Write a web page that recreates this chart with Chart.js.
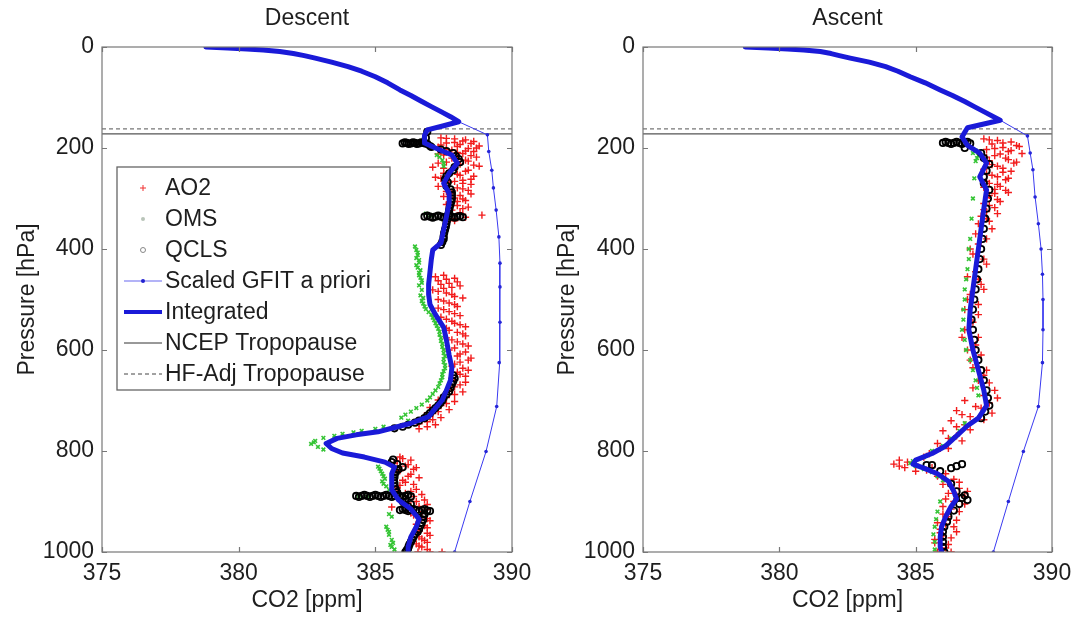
<!DOCTYPE html>
<html>
<head>
<meta charset="utf-8">
<script src="https://cdn.jsdelivr.net/npm/chart.js@4.4.1/dist/chart.umd.min.js"></script>
<style>
  html, body { margin: 0; padding: 0; background: #fff; }
  #wrap { width: 1080px; height: 617px; display: flex; }
  canvas { display: block; }
</style>
</head>
<body>
<div id="wrap">
  <canvas id="descent" width="540" height="617"></canvas>
  <canvas id="ascent" width="540" height="617"></canvas>
</div>
<script>
// axes
const co2Ticks = [375, 380, 385, 390];
const pressureTicks = [0, 200, 400, 600, 800, 1000];
const ncepTropopause = 172;
const hfAdjTropopause = 162;

// Scaled GFIT a priori, [CO2 ppm, pressure hPa]
const descentPrior = [[378.8,0],[380.3,4],[381.5,9],[382.8,22],[384.0,39],[385.0,59],[385.9,85],[386.7,108],[387.4,128],[388.05,148],
  [389.1,174],[389.15,207],[389.26,244],[389.32,279],[389.42,323],[389.52,376],[389.56,428],[389.56,475],[389.56,545],[389.53,625],
  [389.44,712],[389.05,801],[388.46,900],[387.9,1000]];
const ascentPrior = [[378.75,0],[380.3,4],[381.5,9],[382.6,22],[383.9,39],[384.8,59],[385.9,85],[386.8,108],[387.5,128],[388.1,145],
  [389.1,176],[389.2,210],[389.3,243],[389.38,297],[389.5,350],[389.6,400],[389.65,450],[389.67,500],[389.67,560],[389.65,625],
  [389.5,712],[388.95,801],[388.4,900],[387.85,1000]];

// Integrated profiles
const descentIntegrated = [[378.8,0],[379.6,2],[380.3,4],[380.9,6],[381.5,9],[382.0,13],[382.4,17],[382.8,22],[383.4,30],[384.0,39],
  [384.5,48],[385.0,59],[385.45,71],[385.9,85],[386.3,96],[386.7,108],[387.05,118],[387.4,128],[387.75,138],[388.05,148],
  [387.5,156],[386.9,164],[386.8,175],[386.8,190],[387.2,200],[387.8,214],[388.0,230],[387.7,250],[387.5,270],[387.7,290],[387.7,310],
  [387.6,336],[387.5,362],[387.4,388],[387.1,402],[387.05,420],[387.0,445],[386.95,470],[386.95,490],[387.0,510],[387.2,530],[387.5,555],
  [387.6,580],[387.7,610],[387.8,635],[387.75,660],[387.6,680],[387.45,699],[387.2,715],[386.95,732],[386.3,745],[385.6,755],[385.1,762],
  [384.3,768],[383.6,775],[383.2,785],[383.4,795],[383.8,804],[384.6,812],[385.35,822],[385.7,832],[385.6,845],[385.6,857],[385.6,877],
  [385.85,897],[386.3,915],[386.6,935],[386.5,950],[386.3,970],[386.2,990],[386.2,1000]];
const ascentIntegrated = [[378.75,0],[379.6,2],[380.3,4],[380.9,6],[381.5,9],[381.9,13],[382.2,17],[382.6,22],[383.3,30],[383.9,39],
  [384.35,48],[384.8,59],[385.35,71],[385.9,85],[386.35,96],[386.8,108],[387.15,118],[387.5,128],[388.1,145],
  [386.9,160],[386.7,178],[386.9,195],[387.35,210],[387.6,230],[387.35,257],[387.6,283],[387.5,320],[387.4,360],[387.3,400],[387.2,440],
  [387.1,480],[387.0,520],[386.95,560],[387.1,600],[387.3,640],[387.5,680],[387.6,710],[387.3,735],[386.9,750],[386.5,770],[386.1,790],
  [385.6,805],[385.0,818],[384.9,826],[385.3,834],[385.8,845],[386.2,860],[386.4,880],[386.5,895],[386.3,910],[386.1,930],[385.95,950],
  [385.9,970],[385.9,990],[385.95,1000]];

// AO2 measurements
const descentAO2 = [[387.4,180],[387.9,182],[388.3,184],[388.6,187],[387.6,190],[388.1,193],[388.8,196],[387.3,198],[388.4,201],[387.8,204],
  [388.6,207],[388.2,211],[387.5,214],[388.7,218],[388.0,222],[388.4,226],[387.3,230],[388.6,234],[387.1,238],[387.8,242],[388.3,246],
  [387.5,250],[388.1,254],[387.2,258],[388.5,262],[387.9,266],[388.2,270],[387.6,274],[388.0,279],[388.4,284],[387.8,289],[388.1,294],
  [387.9,299],[388.3,304],[387.7,309],[388.0,314],[388.2,320],[388.9,333],[387.9,340],[387.6,346],
  [387.6,181],[388.2,186],[387.9,189],[388.5,191],[387.4,194],[388.0,197],[388.7,200],[387.6,203],[388.3,206],[388.0,209],[387.3,212],
  [388.5,215],[387.8,220],[388.3,224],[387.6,228],[388.1,232],[388.8,236],[387.5,240],[388.4,244],[387.7,248],[388.0,252],[388.6,256],
  [387.4,260],[388.2,264],[387.7,268],[388.5,272],[387.3,276],[388.2,281],[387.6,286],[388.5,291],[387.5,296],[388.2,301],[388.0,306],
  [387.6,312],[388.4,317],[387.8,323],[388.1,328],[387.9,344],[388.3,337],
  [387.2,455],[387.6,460],[388.0,465],[387.4,470],[387.8,476],[387.1,481],[387.6,487],[387.9,494],[387.3,500],[387.7,507],[388.0,514],
  [387.5,520],[387.9,528],[387.4,535],[387.8,543],[388.1,550],[387.6,557],[388.0,565],[388.3,572],[387.8,580],[388.2,588],[387.9,596],
  [388.3,604],[388.0,612],[388.4,620],[387.9,628],[388.2,636],[388.0,644],[388.3,652],[387.9,660],[388.1,669],[387.7,678],[387.9,688],
  [387.3,699],[387.6,706],[387.0,714],[387.3,722],[386.8,730],[387.1,738],[386.6,746],[386.9,752],
  [387.5,452],[387.9,458],[387.3,463],[387.7,468],[388.1,473],[387.5,478],[387.3,484],[387.8,490],[388.2,497],[387.5,503],[387.9,510],
  [387.3,517],[387.7,524],[388.1,532],[387.6,539],[387.9,547],[388.3,554],[387.7,561],[388.2,568],[387.6,576],[388.0,584],[388.4,592],
  [387.7,600],[388.1,608],[388.5,616],[388.1,624],[387.8,632],[388.4,640],[388.1,648],[387.8,656],[388.3,664],[387.9,673],[388.2,683],
  [387.6,694],[387.9,702],[387.4,710],[387.7,718],[387.1,726],[387.4,734],[386.9,742],[387.2,748],[386.6,756],
  [385.9,812],[386.3,818],[385.7,824],[386.1,830],[386.4,836],[385.8,842],[386.2,850],[386.0,858],[386.4,866],[385.8,873],[386.3,880],
  [386.7,886],[386.0,894],[386.5,900],[386.9,906],[385.6,911],[386.2,914],[386.7,920],[386.4,927],[386.9,934],[386.6,941],[386.8,948],
  [386.5,956],[386.9,963],[386.6,970],[386.8,977],[386.5,984],[386.7,990],[386.56,1000],[387.0,1000],[387.44,1000],
  [386.0,815],[385.8,820],[386.2,827],[386.5,833],[385.9,839],[386.3,846],[386.6,853],[386.1,862],[385.9,868],[386.5,876],[386.1,884],
  [386.4,890],[386.8,897],[386.2,903],[386.6,910],[386.9,916],[386.3,923],[386.7,930],[387.0,938],[386.5,945],[386.9,952],[386.6,959],
  [387.0,967],[386.7,974],[386.9,981],[386.6,988],[386.9,995]];
const ascentAO2 = [[387.5,182],[388.0,185],[388.5,188],[387.8,192],[388.7,195],[388.2,199],[387.6,203],[388.4,207],[388.9,211],[387.9,215],
  [388.3,220],[387.7,225],[388.6,230],[388.0,236],[387.5,242],[388.2,248],[387.8,254],[388.4,260],[387.6,266],[388.0,272],[387.5,278],
  [388.3,284],[387.9,290],[387.6,298],[388.1,306],[387.7,314],[387.5,322],[388.0,330],[387.6,340],[387.3,350],[387.8,360],
  [387.7,184],[388.2,190],[388.8,197],[387.9,201],[388.5,205],[388.1,212],[387.6,218],[388.4,223],[388.7,228],[387.8,233],[388.2,240],
  [388.5,246],[387.6,251],[388.0,257],[388.3,263],[387.7,270],[388.1,276],[387.9,282],[388.4,288],[387.7,294],[388.0,302],[387.5,310],
  [387.9,318],[387.6,326],[387.4,335],[387.7,345],
  [387.0,400],[387.5,420],[387.2,445],[387.4,470],[386.9,500],[387.3,530],[386.8,560],[387.2,590],[387.0,620],[387.6,640],[387.3,660],
  [387.9,680],[387.5,690],[386.8,700],[387.7,705],[387.2,712],[386.5,720],[387.8,725],[387.0,732],[386.3,740],[386.8,748],[386.0,760],
  [387.2,370],[387.6,380],[387.3,390],[387.1,410],[387.6,430],[386.9,455],[387.3,460],[387.5,480],[387.0,490],[387.3,510],[386.8,520],
  [387.1,545],[386.7,575],[387.3,575],[386.9,600],[387.4,610],[387.1,635],[387.5,650],[387.7,665],[387.1,675],[388.0,695],[387.4,715],
  [386.7,728],[387.5,738],[386.5,752],[387.0,758],[386.2,775],[386.7,780],
  [386.5,770],[385.8,785],[386.2,795],[385.5,805],[384.4,818],[384.2,826],[384.6,833],[385.0,840],[385.4,838],[385.8,850],[386.4,856],
  [386.0,866],[386.6,874],[386.2,884],[386.8,890],[386.4,900],[386.0,910],[386.6,920],[386.2,930],[385.8,942],[386.4,950],[385.9,962],
  [386.3,972],[385.7,982],[386.1,992],[385.8,1000],[386.3,1000],
  [385.9,795],[385.3,812],[384.7,822],[385.0,826],[384.4,830],[385.6,833],[386.1,845],[386.6,862],[386.3,870],[386.9,880],[386.5,888],
  [386.1,895],[386.8,905],[386.3,915],[386.0,925],[386.5,937],[386.1,945],[385.9,955],[386.5,960],[386.0,968],[385.7,975],[386.2,985],
  [385.9,995]];

// OMS measurements
const descentOMS = [[387.35,218],[387.45,224],[387.5,230],[386.85,330],[387.0,333],[386.5,402],[386.55,412],[386.6,422],[386.5,432],
  [386.65,442],[386.6,452],[386.7,462],[386.6,472],[386.7,481],[386.65,492],[386.7,503],[386.8,514],[386.95,525],[387.1,536],[387.2,547],
  [387.3,558],[387.35,570],[387.4,582],[387.45,594],[387.5,606],[387.5,618],[387.55,630],[387.5,642],[387.45,654],[387.35,666],
  [387.2,680],[387.0,694],[386.7,708],[386.3,722],[385.95,734],[386.2,740],[385.3,752],[384.5,760],[383.8,766],[383.1,774],[382.8,780],
  [382.65,786],[382.9,792],[383.1,797],[385.1,831],[385.2,840],[385.3,850],[385.25,860],[385.4,870],[385.5,877],[384.4,891],[384.7,891],
  [385.6,930],[385.45,956],[385.5,966],[385.6,976],[385.55,986],[385.7,995],
  [387.25,214],[387.5,236],[386.45,395],[386.55,407],[386.5,418],[386.6,427],[386.55,437],[386.6,447],[386.65,457],[386.7,467],
  [386.75,497],[386.75,508],[386.85,519],[387.05,530],[387.15,541],[387.25,552],[387.35,564],[387.4,576],[387.45,588],[387.5,600],
  [387.55,612],[387.5,624],[387.55,636],[387.45,648],[387.4,660],[387.3,673],[387.1,687],[386.9,700],[386.5,715],[386.1,728],
  [385.0,756],[384.2,763],[383.5,770],[382.75,783],[385.15,835],[385.25,845],[385.35,855],[385.3,865],[385.5,925],[385.4,950],
  [385.5,960],[385.65,982],[385.6,990]];
const ascentOMS = [[387.2,205],[387.3,215],[387.2,226],[387.1,300],[387.0,380],[386.95,420],[386.85,460],[386.8,500],[386.75,540],
  [386.8,580],[387.0,620],[387.2,660],[387.3,690],[386.6,760],[386.0,790],[385.3,812],[384.9,820],[385.0,830],[385.6,842],[386.0,858],
  [385.8,920],[385.7,950],[385.7,980],
  [387.1,210],[387.25,220],[387.15,260],[387.05,340],[386.95,400],[386.9,440],[386.8,480],[386.75,520],[386.7,560],[386.85,600],
  [387.1,640],[387.25,675],[386.8,745],[386.3,775],[385.6,800],[384.8,824],[385.3,836],[385.8,850],[385.9,900],[385.75,935],
  [385.65,965],[385.7,995]];

// QCLS measurements
const descentQCLS = [[386.0,191],[386.15,190],[386.3,191],[386.45,190],[386.6,191],[386.75,190],[386.9,192],
  [386.08,189],[386.22,192],[386.38,189],[386.52,192],[386.68,189],[386.82,191],
  [387.0,196],[387.4,203],[387.85,210],[388.05,222],[387.9,238],[387.7,250],[387.55,262],[387.6,275],[387.8,288],[387.8,300],[387.75,312],
  [387.7,324],[386.8,336],[387.0,336],[387.2,336],[387.4,336],[387.6,336],[387.8,336],[388.0,336],[388.2,337],[387.6,350],[387.55,362],
  [386.9,334],[387.1,338],[387.3,334],[387.5,338],[387.7,334],[387.9,338],[388.1,335],
  [387.5,375],[387.45,386],[387.4,392],
  [386.9,168],[386.85,180],[387.05,198],[387.6,206],[387.95,216],[388.1,228],[387.85,244],[387.6,256],[387.65,268],[387.75,282],
  [387.8,294],[387.78,306],[387.72,318],[387.68,330],[387.62,344],[387.58,356],[387.52,368],[387.5,380],
  [387.85,650],[387.85,662],[387.75,675],[387.6,688],[387.45,700],[387.3,710],[387.1,720],[386.9,730],[386.6,740],[386.2,748],[385.7,755],
  [387.9,656],[387.8,668],[387.7,682],[387.5,694],[387.38,705],[387.2,715],[387.0,725],[386.8,735],[386.45,744],[386.0,752],
  [385.6,822],[385.8,826],[386.0,832],[385.75,842],[385.7,852],[385.7,864],[385.75,876],[384.3,889],[384.5,889],[384.7,889],[384.9,889],
  [385.1,889],[385.3,889],[385.5,889],[385.7,889],[385.9,889],[386.1,889],[386.3,890],[386.0,900],[386.2,910],[385.9,917],[386.1,917],
  [384.4,891],[384.6,887],[384.8,891],[385.0,887],[385.2,891],[385.4,887],[385.6,891],[385.8,887],[386.0,891],[386.2,887],
  [386.3,917],[386.5,917],[386.7,917],[386.9,918],[387.0,919],[386.75,930],[386.7,942],[386.6,955],[386.45,965],[386.35,975],
  [386.0,915],[386.2,919],[386.4,915],[386.6,919],[386.8,915],
  [386.25,985],[386.2,993],[386.1,1000],
  [385.65,817],[385.85,836],[385.7,847],[385.68,858],[385.7,870],[385.8,882],[386.1,895],[386.3,905],[386.1,913],[386.8,925],
  [386.75,936],[386.65,948],[386.55,960],[386.4,970],[386.3,980],[386.22,989],[386.15,996]];
const ascentQCLS = [[386.0,190],[386.2,190],[386.4,190],[386.6,190],[386.8,190],[387.0,191],
  [386.1,188],[386.3,192],[386.5,188],[386.7,192],[386.9,188],
  [387.4,210],[387.7,232],[387.5,257],[387.7,283],[387.6,320],[387.5,360],[387.4,400],[387.3,440],[387.2,480],[387.1,520],[387.1,560],
  [387.2,600],[387.4,640],[387.6,680],[387.7,710],[387.4,735],[386.7,826],[386.5,830],[386.3,834],[386.5,880],[386.7,893],[386.6,905],
  [386.2,930],[386.05,950],[386.0,970],[386.0,990],[386.05,1000],
  [386.8,200],[387.5,220],[387.6,245],[387.5,270],[387.65,300],[387.55,340],[387.45,380],[387.35,420],[387.25,460],[387.15,500],
  [387.05,540],[387.15,580],[387.3,620],[387.5,660],[387.65,695],[387.55,722],[385.4,828],[385.6,828],[385.9,840],[386.3,865],
  [386.8,888],[386.9,897],[386.4,918],[386.15,940],[386.0,960],[386.0,980]];

const FONT = '"Liberation Sans", Arial, Helvetica, sans-serif';
const FSIZE = 23;
const TEXT = '#1e1e1e';

function pts(list) {
  return list.map(d => ({ x: d[0], y: d[1] }));
}

const framePlugin = {
  id: 'frame',
  afterDraw(chart, args, opts) {
    const { ctx, chartArea: a, scales } = chart;
    ctx.save();
    ctx.strokeStyle = '#777';
    ctx.lineWidth = 1.2;
    ctx.strokeRect(a.left, a.top, a.right - a.left, a.bottom - a.top);
    ctx.beginPath();
    co2Ticks.forEach(v => {
      const px = Math.round(scales.x.getPixelForValue(v)) + 0.5;
      ctx.moveTo(px, a.bottom); ctx.lineTo(px, a.bottom - 5);
      ctx.moveTo(px, a.top); ctx.lineTo(px, a.top + 5);
    });
    pressureTicks.forEach(v => {
      const py = Math.round(scales.y.getPixelForValue(v)) + 0.5;
      ctx.moveTo(a.left, py); ctx.lineTo(a.left + 5, py);
      ctx.moveTo(a.right, py); ctx.lineTo(a.right - 5, py);
    });
    ctx.stroke();
    ctx.fillStyle = TEXT;
    ctx.font = FSIZE + 'px ' + FONT;
    ctx.textAlign = 'center';
    ctx.textBaseline = 'middle';
    ctx.fillText(opts.title, (a.left + a.right) / 2, 19);
    ctx.restore();
  }
};

const legendItems = ['AO2', 'OMS', 'QCLS', 'Scaled GFIT a priori', 'Integrated', 'NCEP Tropopause', 'HF-Adj Tropopause'];

const legendPlugin = {
  id: 'boxLegend',
  afterDraw(chart, args, opts) {
    if (!opts.show) return;
    const ctx = chart.ctx;
    const bx = 117, by = 167, bw = 273, bh = 223;
    ctx.save();
    ctx.fillStyle = '#fff';
    ctx.fillRect(bx, by, bw, bh);
    ctx.strokeStyle = '#666';
    ctx.lineWidth = 1.3;
    ctx.strokeRect(bx, by, bw, bh);
    legendItems.forEach((label, i) => {
      const y = by + 21 + i * 31;
      const cx = 143;
      ctx.setLineDash([]);
      if (i === 0) {
        ctx.strokeStyle = '#f03030'; ctx.lineWidth = 1;
        ctx.beginPath(); ctx.moveTo(cx - 3, y); ctx.lineTo(cx + 3, y); ctx.moveTo(cx, y - 3); ctx.lineTo(cx, y + 3); ctx.stroke();
      } else if (i === 1) {
        ctx.fillStyle = '#b9c4b9';
        ctx.beginPath(); ctx.arc(cx, y, 2, 0, Math.PI * 2); ctx.fill();
      } else if (i === 2) {
        ctx.strokeStyle = '#888'; ctx.lineWidth = 1;
        ctx.beginPath(); ctx.arc(cx, y, 2.5, 0, Math.PI * 2); ctx.stroke();
      } else if (i === 3) {
        ctx.strokeStyle = '#9a9af5'; ctx.lineWidth = 1.5;
        ctx.beginPath(); ctx.moveTo(124, y); ctx.lineTo(162, y); ctx.stroke();
        ctx.fillStyle = '#2020d0';
        ctx.beginPath(); ctx.arc(cx, y, 2, 0, Math.PI * 2); ctx.fill();
      } else if (i === 4) {
        ctx.strokeStyle = '#1a1ad8'; ctx.lineWidth = 4;
        ctx.beginPath(); ctx.moveTo(124, y); ctx.lineTo(162, y); ctx.stroke();
      } else if (i === 5) {
        ctx.strokeStyle = '#333'; ctx.lineWidth = 1;
        ctx.beginPath(); ctx.moveTo(124, y); ctx.lineTo(162, y); ctx.stroke();
      } else {
        ctx.strokeStyle = '#444'; ctx.lineWidth = 1; ctx.setLineDash([4, 3]);
        ctx.beginPath(); ctx.moveTo(124, y); ctx.lineTo(162, y); ctx.stroke();
      }
      ctx.setLineDash([]);
      ctx.fillStyle = TEXT;
      ctx.font = FSIZE + 'px ' + FONT;
      ctx.textAlign = 'left';
      ctx.textBaseline = 'middle';
      ctx.fillText(label, 165, y + 1);
    });
    ctx.restore();
  }
};

function makeChart(id, title, integ, prior, ao2, oms, qcls, yWidth, showLegend) {
  const f = { family: FONT, size: FSIZE };
  return new Chart(document.getElementById(id), {
    type: 'scatter',
    data: {
      datasets: [
        { label: 'Integrated', data: pts(integ), showLine: true, borderColor: '#1a1ad8', borderWidth: 5,
          pointRadius: 0, order: 0, borderJoinStyle: 'round', borderCapStyle: 'round' },
        { label: 'Scaled GFIT a priori', data: pts(prior), showLine: true, borderColor: '#3a3af0', borderWidth: 1,
          pointRadius: 1.8, pointBackgroundColor: '#2525d8', pointBorderWidth: 0, order: 1 },
        { label: 'QCLS', data: pts(qcls), pointStyle: 'circle', pointRadius: 3.2, borderColor: '#000',
          backgroundColor: 'rgba(0,0,0,0)', pointBorderWidth: 1.8, order: 2 },
        { label: 'OMS', data: pts(oms), pointStyle: 'crossRot', pointRadius: 2.6, borderColor: '#35c435',
          backgroundColor: '#35c435', pointBorderWidth: 1.6, order: 3 },
        { label: 'AO2', data: pts(ao2), pointStyle: 'cross', pointRadius: 3.6, borderColor: '#f21c1c',
          backgroundColor: '#f21c1c', pointBorderWidth: 1.4, order: 4 },
        { label: 'NCEP Tropopause', data: pts([[co2Ticks[0], ncepTropopause], [co2Ticks[3], ncepTropopause]]), showLine: true,
          borderColor: '#555', borderWidth: 1.2, pointRadius: 0, order: 5 },
        { label: 'HF-Adj Tropopause', data: pts([[co2Ticks[0], hfAdjTropopause], [co2Ticks[3], hfAdjTropopause]]), showLine: true,
          borderColor: '#777', borderWidth: 1.2, borderDash: [4, 3], pointRadius: 0, order: 6 }
      ]
    },
    options: {
      responsive: false,
      animation: false,
      events: [],
      layout: { padding: { left: 0, right: 28, top: 47, bottom: 0 } },
      scales: {
        x: {
          type: 'linear', min: 375, max: 390,
          afterBuildTicks: s => { s.ticks = co2Ticks.map(v => ({ value: v })); },
          afterFit: s => { s.height = 65; },
          grid: { display: false, drawTicks: false },
          border: { display: false },
          ticks: { font: f, color: TEXT, padding: 8, maxRotation: 0, autoSkip: false, callback: v => String(v) },
          title: { display: true, text: 'CO2 [ppm]', font: f, color: TEXT, padding: { top: 0, bottom: 3 } }
        },
        y: {
          type: 'linear', min: 0, max: 1000, reverse: true,
          afterBuildTicks: s => { s.ticks = pressureTicks.map(v => ({ value: v })); },
          afterFit: s => { s.width = yWidth; },
          grid: { display: false, drawTicks: false },
          border: { display: false },
          ticks: { font: f, color: TEXT, padding: 8, autoSkip: false, callback: v => String(v) },
          title: { display: true, text: 'Pressure [hPa]', font: f, color: TEXT, padding: { top: 14, bottom: 0 } }
        }
      },
      plugins: {
        legend: { display: false },
        tooltip: { enabled: false },
        frame: { title: title },
        boxLegend: { show: showLegend }
      }
    },
    plugins: [framePlugin, legendPlugin]
  });
}

makeChart('descent', 'Descent', descentIntegrated, descentPrior, descentAO2, descentOMS, descentQCLS, 102, true);
makeChart('ascent', 'Ascent', ascentIntegrated, ascentPrior, ascentAO2, ascentOMS, ascentQCLS, 103, false);
</script>
</body>
</html>
